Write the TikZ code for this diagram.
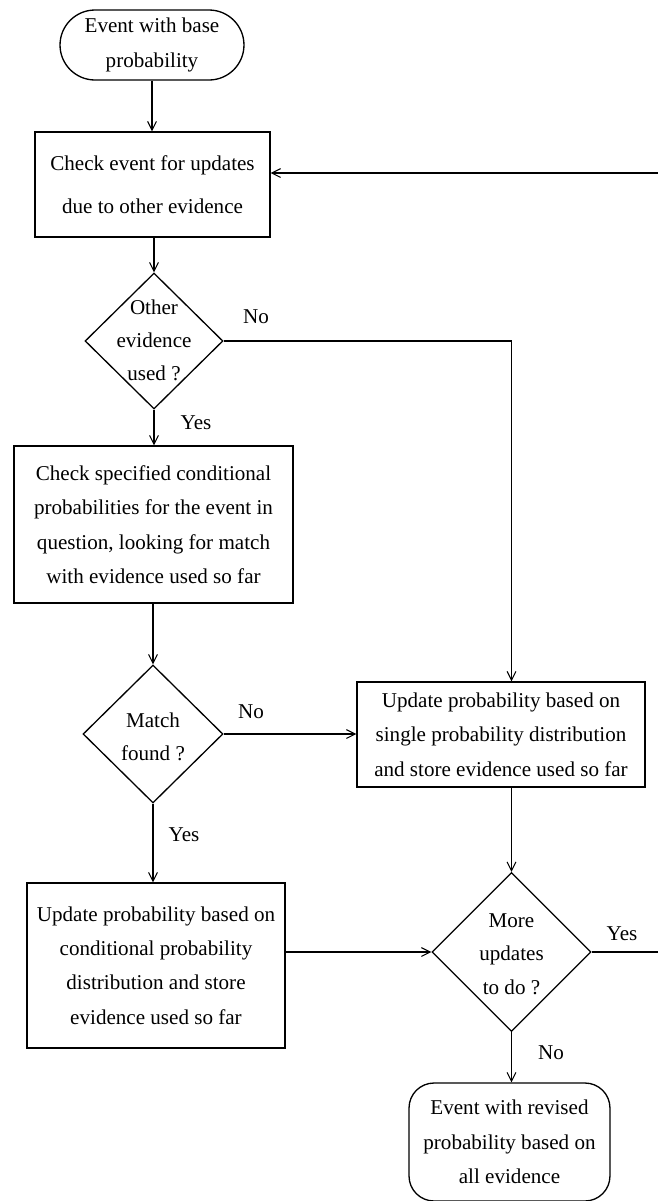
\documentclass[tikz,border=0pt]{standalone}
\usepackage{fontspec}
\setmainfont{Liberation Serif}
\usetikzlibrary{shapes.geometric,arrows.meta}

\begin{document}
\begin{tikzpicture}[x=0.02cm,y=-0.02cm,
  every node/.style={font=\fontsize{12}{19.6}\selectfont},
  box/.style={draw,line width=0.75pt,align=center,inner sep=0pt},
  decision/.style={draw,line width=0.75pt,diamond,inner sep=0pt},
  txt/.style={align=center,inner sep=0pt},
  arr/.style={line width=0.6pt,-{Straight Barb[length=5pt,width=5pt]}},
  lbl/.style={inner sep=0pt}]

\useasboundingbox (0,0) rectangle (658,1201);
\clip (0,0) rectangle (658,1201);

% terminals and process boxes
\node[box, rounded corners=0.7cm, minimum width=3.68cm, minimum height=1.4cm]
  (start) at (152,45) {Event with base\\probability};
\node[box, minimum width=4.7cm, minimum height=2.1cm,
  font=\fontsize{12}{24.5}\selectfont]
  (check) at (152.5,184.5) {Check event for updates\\due to other evidence};
\node[box, minimum width=5.58cm, minimum height=3.14cm]
  (spec) at (153.5,524.5) {Check specified conditional\\probabilities for the event in\\question, looking for match\\with evidence used so far};
\node[box, minimum width=5.76cm, minimum height=2.1cm]
  (single) at (501,734.5) {Update probability based on\\single probability distribution\\and store evidence used so far};
\node[box, minimum width=5.16cm, minimum height=3.3cm]
  (cond) at (156,965.5) {Update probability based on\\conditional probability\\distribution and store\\evidence used so far};
\node[box, rounded corners=0.5cm, minimum width=4.02cm, minimum height=2.36cm]
  (finish) at (509.5,1142) {Event with revised\\probability based on\\all evidence};

% decisions
\node[decision, minimum width=2.76cm, minimum height=2.72cm] (d1) at (154,341) {};
\node[txt, font=\fontsize{12}{18.8}\selectfont] (d1t) at (154,340) {Other\\evidence\\used ?};
\node[decision, minimum width=2.8cm, minimum height=2.76cm] (d2) at (153,734) {};
\node[txt, font=\fontsize{12}{18.8}\selectfont] (d2t) at (153,737) {Match\\found ?};
\node[decision, minimum width=3.18cm, minimum height=3.18cm] (d3) at (511.5,952) {};
\node[txt, font=\fontsize{12}{19.2}\selectfont] (d3t) at (511.5,954) {More\\updates\\to do ?};

% branch labels
\node[lbl] (no1) at (256,317) {No};
\node[lbl] (yes1) at (196,423) {Yes};
\node[lbl] (no2) at (251,712) {No};
\node[lbl] (yes2) at (184,835) {Yes};
\node[lbl] (yes3) at (622,934) {Yes};
\node[lbl] (no3) at (551,1053) {No};

% connectors
\draw[arr] (start.south) -- (start.south |- check.north);
\draw[arr] (d1.north |- check.south) -- (d1.north);
\draw[arr] (d1.east) -| (d3.north |- single.north);
\draw[arr] (d1.south) -- (d1.south |- spec.north);
\draw[arr] (d2.north |- spec.south) -- (d2.north);
\draw[arr] (d2.east) -- (d2.east -| single.west);
\draw[arr] (d2.south) -- (d2.south |- cond.north);
\draw[arr] (d3.north |- single.south) -- (d3.north);
\draw[arr] (cond.east |- d3.west) -- (d3.west);
\coordinate (loopa) at (680,952);
\coordinate (loopb) at (680,173);
\draw[arr] (d3.east) -- (loopa) -- (loopb) -- (check.east |- loopb);
\draw[arr] (d3.south) -- (d3.south |- finish.north);
\end{tikzpicture}
\end{document}
